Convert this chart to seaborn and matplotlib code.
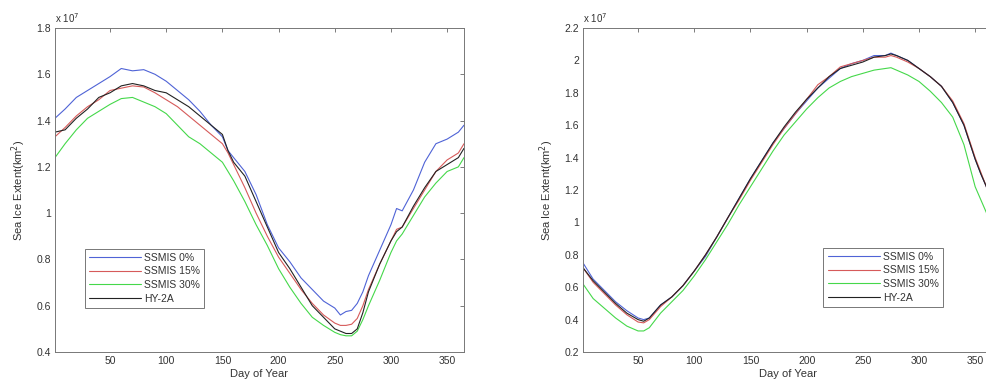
import pandas as pd
import matplotlib
matplotlib.use("Agg")
import matplotlib.pyplot as plt
import seaborn as sns
from matplotlib.ticker import FuncFormatter

# values are in units of 10^7 km^2
series_names = ["SSMIS 0%", "SSMIS 15%", "SSMIS 30%", "HY-2A"]

days_left = [1, 10, 20, 30, 40, 50, 60, 70, 80, 90, 100, 110, 120, 130, 140, 150, 155, 160,
             170, 180, 190, 200, 210, 220, 230, 240, 250, 255, 260, 265, 270, 275, 280,
             290, 300, 305, 310, 320, 330, 340, 350, 360, 365]
left_ssmis0 = [1.41, 1.45, 1.50, 1.53, 1.56, 1.59, 1.625, 1.615, 1.62, 1.60, 1.57, 1.53, 1.49, 1.44,
               1.38, 1.33, 1.27, 1.24, 1.18, 1.08, 0.95, 0.85, 0.79, 0.72, 0.67, 0.62, 0.59, 0.56,
               0.575, 0.58, 0.61, 0.66, 0.73, 0.84, 0.95, 1.02, 1.01, 1.10, 1.22, 1.30, 1.32, 1.35, 1.38]
left_ssmis15 = [1.33, 1.37, 1.42, 1.46, 1.49, 1.53, 1.54, 1.55, 1.545, 1.52, 1.49, 1.46, 1.42, 1.38,
                1.34, 1.30, 1.26, 1.21, 1.11, 1.00, 0.90, 0.81, 0.74, 0.67, 0.61, 0.56, 0.525, 0.515,
                0.515, 0.52, 0.545, 0.60, 0.67, 0.78, 0.88, 0.93, 0.94, 1.02, 1.10, 1.18, 1.23, 1.26, 1.30]
left_ssmis30 = [1.24, 1.30, 1.36, 1.41, 1.44, 1.47, 1.495, 1.50, 1.48, 1.46, 1.43, 1.38, 1.33, 1.30,
                1.26, 1.22, 1.18, 1.14, 1.05, 0.95, 0.86, 0.76, 0.68, 0.61, 0.55, 0.515, 0.485, 0.475,
                0.47, 0.47, 0.49, 0.54, 0.60, 0.71, 0.83, 0.88, 0.91, 0.99, 1.07, 1.13, 1.18, 1.20, 1.24]
left_hy2a = [1.35, 1.36, 1.41, 1.45, 1.50, 1.52, 1.55, 1.56, 1.55, 1.53, 1.52, 1.49, 1.46, 1.42,
             1.38, 1.34, 1.27, 1.22, 1.16, 1.05, 0.94, 0.83, 0.76, 0.68, 0.60, 0.55, 0.50, 0.49,
             0.48, 0.48, 0.50, 0.57, 0.66, 0.78, 0.88, 0.92, 0.94, 1.03, 1.11, 1.18, 1.21, 1.24, 1.28]

days_right = [1, 10, 20, 30, 40, 50, 55, 60, 70, 80, 90, 100, 110, 120, 130, 140, 150, 160, 170,
              180, 190, 200, 210, 220, 230, 240, 250, 260, 270, 275, 280, 290, 300, 310, 320,
              330, 340, 350, 355, 360, 365]
right_ssmis0 = [0.75, 0.65, 0.58, 0.51, 0.455, 0.41, 0.40, 0.41, 0.49, 0.54, 0.61, 0.70, 0.79, 0.91,
                1.03, 1.15, 1.27, 1.38, 1.49, 1.58, 1.67, 1.75, 1.83, 1.89, 1.95, 1.98, 2.00, 2.03,
                2.03, 2.045, 2.03, 2.00, 1.95, 1.90, 1.84, 1.74, 1.60, 1.39, 1.30, 1.22, 1.03]
right_ssmis15 = [0.72, 0.63, 0.56, 0.49, 0.43, 0.385, 0.38, 0.40, 0.48, 0.54, 0.61, 0.70, 0.80, 0.91,
                 1.03, 1.14, 1.26, 1.37, 1.48, 1.58, 1.67, 1.76, 1.85, 1.90, 1.96, 1.98, 2.00, 2.02,
                 2.02, 2.03, 2.02, 1.99, 1.95, 1.90, 1.84, 1.75, 1.61, 1.40, 1.31, 1.22, 1.02]
right_ssmis30 = [0.62, 0.53, 0.47, 0.41, 0.36, 0.33, 0.33, 0.35, 0.44, 0.51, 0.58, 0.67, 0.77, 0.88,
                 0.99, 1.11, 1.22, 1.33, 1.44, 1.54, 1.62, 1.70, 1.77, 1.83, 1.87, 1.90, 1.92, 1.94,
                 1.95, 1.955, 1.94, 1.91, 1.87, 1.81, 1.74, 1.65, 1.48, 1.22, 1.14, 1.06, 0.92]
right_hy2a = [0.72, 0.64, 0.57, 0.50, 0.44, 0.40, 0.39, 0.41, 0.49, 0.54, 0.61, 0.70, 0.80, 0.91,
              1.03, 1.15, 1.27, 1.38, 1.49, 1.59, 1.68, 1.76, 1.83, 1.90, 1.95, 1.97, 1.99, 2.02,
              2.03, 2.04, 2.03, 2.00, 1.95, 1.90, 1.84, 1.74, 1.60, 1.39, 1.30, 1.22, 1.02]

line_colors = ["#4f63d6", "#d65a5a", "#45d84a", "#222222"]


def to_long(days, cols):
    frames = []
    for name, vals in zip(series_names, cols):
        frames.append(pd.DataFrame({"Day": days, "Extent": vals, "Series": name}))
    return pd.concat(frames, ignore_index=True)


df_left = to_long(days_left, [left_ssmis0, left_ssmis15, left_ssmis30, left_hy2a])
df_right = to_long(days_right, [right_ssmis0, right_ssmis15, right_ssmis30, right_hy2a])

sns.set_theme(style="white")
plt.rcParams["font.family"] = ["Liberation Sans", "DejaVu Sans"]
txt = "#333333"

fig = plt.figure(figsize=(9.87, 3.9), dpi=100)
ax1 = fig.add_axes([0.0557, 0.0974, 0.4144, 0.8308])
ax2 = fig.add_axes([0.5907, 0.0974, 0.4144, 0.8308])

panels = [
    (ax1, df_left, (0.4, 1.8), [0.4, 0.6, 0.8, 1.0, 1.2, 1.4, 1.6, 1.8], (0.06, 0.12)),
    (ax2, df_right, (0.2, 2.2), [0.2, 0.4, 0.6, 0.8, 1.0, 1.2, 1.4, 1.6, 1.8, 2.0, 2.2], (0.575, 0.123)),
]

for ax, df, ylim, yticks, leg_pos in panels:
    sns.lineplot(data=df, x="Day", y="Extent", hue="Series", palette=line_colors,
                 linewidth=0.8, ax=ax, legend=True)
    ax.set_xlim(1, 365)
    ax.set_ylim(*ylim)
    ax.set_xticks([50, 100, 150, 200, 250, 300, 350])
    ax.set_yticks(yticks)
    ax.yaxis.set_major_formatter(FuncFormatter(lambda v, p: f"{v:g}"))
    ax.tick_params(direction="in", length=3, width=0.6, labelsize=7.5, colors="#666666",
                   labelcolor=txt, top=True, right=True, pad=3)
    for s in ax.spines.values():
        s.set_color("#777777")
        s.set_linewidth(0.7)
    ax.set_xlabel("Day of Year", fontsize=8, color=txt, labelpad=2)
    ax.set_ylabel("Sea Ice Extent(km$^2$)", fontsize=8, color=txt, labelpad=6)
    ax.text(0.0, 1.01, "x 10$^7$", transform=ax.transAxes, fontsize=7, color=txt,
            ha="left", va="bottom")
    leg = ax.legend(loc="lower left", bbox_to_anchor=leg_pos, fontsize=7.5, frameon=True,
                    fancybox=False, handlelength=5, handletextpad=0.3, borderpad=0.4,
                    labelspacing=0.35, title=None)
    leg.get_frame().set_edgecolor("#555555")
    leg.get_frame().set_linewidth(0.7)
    for t in leg.get_texts():
        t.set_color(txt)

fig.savefig("out.png", dpi=100)
